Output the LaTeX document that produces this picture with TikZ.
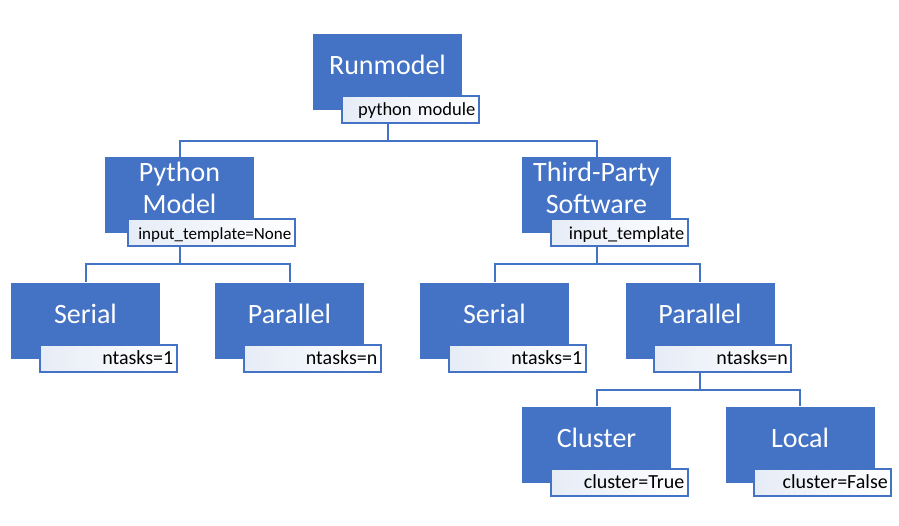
\documentclass[tikz,border=0pt]{standalone}
\usepackage{fontspec}
\setmainfont{Carlito}
\usetikzlibrary{positioning}
\definecolor{officeblue}{HTML}{4472C4}
\definecolor{tagfill}{HTML}{E6ECF6}
\tikzset{
  box/.style={fill=officeblue, minimum width=149pt, minimum height=76pt, inner sep=0pt},
  boxtext/.style={text=white, font=\fontsize{28}{32}\selectfont, align=center, inner sep=0pt},
  tag/.style={draw=officeblue, line width=2pt, left color=tagfill, right color=white,
    minimum height=27pt, text width=130pt, align=right, inner xsep=3.5pt, inner ysep=0pt,
    text height=13pt, text depth=0pt, font=\fontsize{20}{22}\selectfont, anchor=north west},
  conn/.style={draw=officeblue, line width=2pt}
}
\begin{document}
\begin{tikzpicture}[x=1pt, y=-1pt]
\useasboundingbox (0,0) rectangle (899,525);

% boxes
\node (run) [box] at (387.5,71.5) {};
\node (pym) [box] at (179.5,195) {};
\node (tps) [box] at (596.5,195) {};
\node (ser1) [box] at (85.5,320.5) {};
\node (par1) [box] at (289.5,320.5) {};
\node (ser2) [box] at (494.5,320.5) {};
\node (par2) [box] at (700,320.5) {};
\node (clu) [box] at (596.5,444.5) {};
\node (loc) [box] at (800,444.5) {};

% titles
\node (runt) [boxtext] at ([yshift=7pt]run.center) {Runmodel};
\node (pymt) [boxtext] at ([yshift=7pt]pym.center) {Python\\Model};
\node (tpst) [boxtext] at ([yshift=7pt]tps.center) {Third-Party\\Software};
\node (ser1t) [boxtext] at ([yshift=7pt]ser1.center) {Serial};
\node (par1t) [boxtext] at ([yshift=7pt]par1.center) {Parallel};
\node (ser2t) [boxtext] at ([yshift=7pt]ser2.center) {Serial};
\node (par2t) [boxtext] at ([yshift=7pt]par2.center) {Parallel};
\node (clut) [boxtext] at ([yshift=7pt]clu.center) {Cluster};
\node (loct) [boxtext] at ([yshift=7pt]loc.center) {Local};

% tags
\node (runl) [tag, font=\fontsize{18.5}{21}\selectfont] at ([xshift=28pt,yshift=15pt]run.south west) {python module};
\node (pyml) [tag, text width=160pt, font=\fontsize{17}{20}\selectfont] at ([xshift=22pt,yshift=15pt]pym.south west) {input\_template=None};
\node (tpsl) [tag, font=\fontsize{18.3}{21}\selectfont] at ([xshift=28pt,yshift=15pt]tps.south west) {input\_template};
\node (ser1l) [tag] at ([xshift=28pt,yshift=15pt]ser1.south west) {ntasks=1};
\node (par1l) [tag] at ([xshift=28pt,yshift=15pt]par1.south west) {ntasks=n};
\node (ser2l) [tag] at ([xshift=28pt,yshift=15pt]ser2.south west) {ntasks=1};
\node (par2l) [tag] at ([xshift=28pt,yshift=15pt]par2.south west) {ntasks=n};
\node (clul) [tag] at ([xshift=28pt,yshift=15pt]clu.south west) {cluster=True};
\node (locl) [tag] at ([xshift=28pt,yshift=15pt]loc.south west) {cluster=False};

% connectors
\draw[conn] (runl.south -| run.south) -- ++(0,17) -| (pym.north);
\draw[conn] (runl.south -| run.south) -- ++(0,17) -| (tps.north);
\draw[conn] (pyml.south -| pym.south) -- ++(0,17) -| (ser1.north);
\draw[conn] (pyml.south -| pym.south) -- ++(0,17) -| (par1.north);
\draw[conn] (tpsl.south -| tps.south) -- ++(0,17) -| (ser2.north);
\draw[conn] (tpsl.south -| tps.south) -- ++(0,17) -| (par2.north);
\draw[conn] (par2l.south -| par2.south) -- ++(0,17) -| (clu.north);
\draw[conn] (par2l.south -| par2.south) -- ++(0,17) -| (loc.north);
\end{tikzpicture}
\end{document}
